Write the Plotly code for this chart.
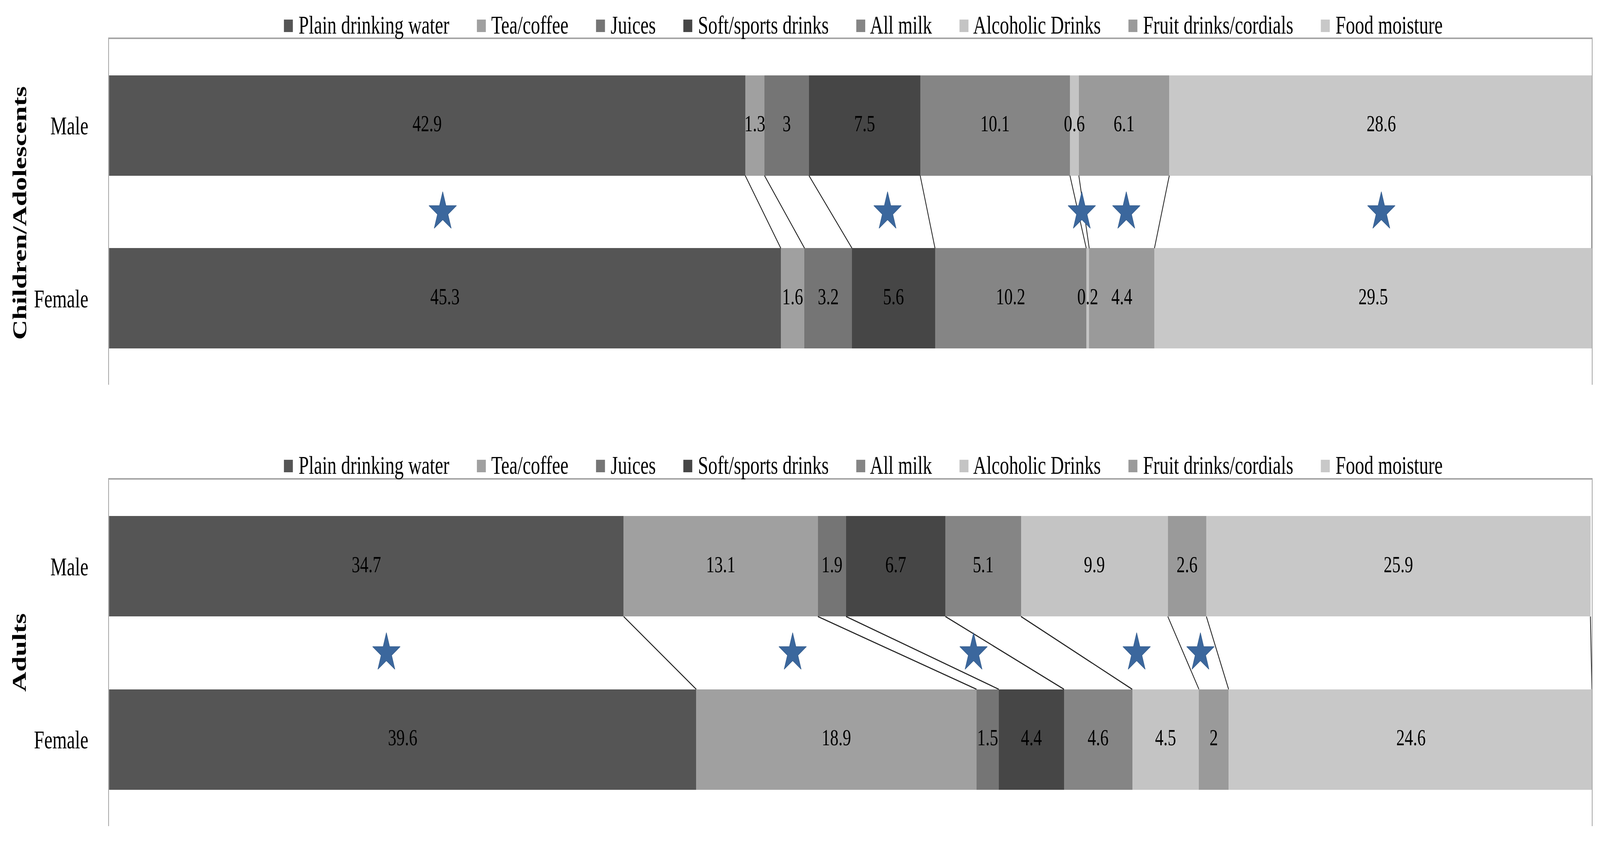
import plotly.graph_objects as go
import numpy as np

categories = ["Plain drinking water", "Tea/coffee", "Juices", "Soft/sports drinks",
              "All milk", "Alcoholic Drinks", "Fruit drinks/cordials", "Food moisture"]
sexes = ["Male", "Female"]
groups = ["Children/Adolescents", "Adults"]

child_male = [42.9, 1.3, 3, 7.5, 10.1, 0.6, 6.1, 28.6]
child_female = [45.3, 1.6, 3.2, 5.6, 10.2, 0.2, 4.4, 29.5]
adult_male = [34.7, 13.1, 1.9, 6.7, 5.1, 9.9, 2.6, 25.9]
adult_female = [39.6, 18.9, 1.5, 4.4, 4.6, 4.5, 2, 24.6]

# significance stars (x position in % units)
child_stars = [22.5, 52.5, 65.6, 68.6, 85.8]
adult_stars = [18.7, 46.1, 58.3, 69.3, 73.6]

colors = ["#555555", "#a0a0a0", "#757575", "#464646",
          "#858585", "#c4c4c4", "#9a9a9a", "#c8c8c8"]

FONT = "Liberation Serif"
BAR_W = 0.58
W, H = 5720, 2171

fig = go.Figure()

panels = [
    (child_male, child_female, child_stars, "x", "y", "legend"),
    (adult_male, adult_female, adult_stars, "x2", "y2", "legend2"),
]

for male, female, stars, xa, ya, lg in panels:
    for i, cat in enumerate(categories):
        vals = [male[i], female[i]]
        fig.add_trace(go.Bar(
            x=vals, y=[0, 1], orientation="h", width=BAR_W,
            marker=dict(color=colors[i], line=dict(width=0)),
            showlegend=False, xaxis=xa, yaxis=ya, hoverinfo="skip",
        ))
    cm = np.cumsum(male)
    cf = np.cumsum(female)
    # value labels, drawn on top of all segments
    lab_x = list(cm - np.array(male) / 2) + list(cf - np.array(female) / 2)
    lab_y = [0] * len(male) + [1] * len(female)
    lab_t = [str(v) for v in male] + [str(v) for v in female]
    fig.add_trace(go.Scatter(
        x=lab_x, y=lab_y, text=lab_t, mode="text", textposition="middle center",
        textfont=dict(family=FONT, size=60, color="black"), cliponaxis=False,
        showlegend=False, xaxis=xa, yaxis=ya, hoverinfo="skip"))
    # connectors between cumulative boundaries
    lx, ly = [], []
    for a, b in zip(cm, cf):
        lx += [min(a, 100), min(b, 100), None]
        ly += [BAR_W / 2, 1 - BAR_W / 2, None]
    fig.add_trace(go.Scatter(
        x=lx, y=ly, mode="lines", line=dict(color="#222222", width=2.8),
        showlegend=False, xaxis=xa, yaxis=ya, hoverinfo="skip"))
    fig.add_trace(go.Scatter(
        x=stars, y=[0.5] * len(stars), mode="markers",
        marker=dict(symbol="star", size=74, color="#3b679d",
                    line=dict(color="#345c8c", width=1.5)),
        showlegend=False, xaxis=xa, yaxis=ya, hoverinfo="skip"))
    # legend entries
    for i, cat in enumerate(categories):
        pad = "\u00a0" * 3 if i < len(categories) - 1 else ""
        fig.add_trace(go.Scatter(
            x=[None], y=[None], mode="markers",
            marker=dict(size=1, color="rgba(0,0,0,0)"),
            name=f"<span style='color:{colors[i]}'>\u25a0</span> {cat}{pad}",
            legend=lg, showlegend=True, xaxis=xa, yaxis=ya))


def ydom(top_px, bot_px):
    return [1 - bot_px / H, 1 - top_px / H]


axis_common_x = dict(range=[0, 100], side="top", showline=True, linecolor="#a6a6a6",
                     linewidth=4, showticklabels=False, showgrid=False, zeroline=False,
                     ticks="", fixedrange=True)
axis_common_y = dict(range=[1.5, -0.5], tickvals=[0, 1], ticktext=sexes, showline=True,
                     linecolor="#a6a6a6", linewidth=3, mirror=True, showgrid=False,
                     zeroline=False, ticks="", ticklabelstandoff=58,
                     tickfont=dict(family=FONT, size=66, color="black"))

legend_common = dict(orientation="h", xanchor="center", x=0.505, yanchor="middle",
                     font=dict(family=FONT, size=66, color="black"),
                     bgcolor="rgba(0,0,0,0)", borderwidth=0, itemwidth=30,
                     traceorder="normal")

fig.update_layout(
    width=W, height=H,
    margin=dict(l=390, r=29, t=0, b=0),
    paper_bgcolor="white", plot_bgcolor="white",
    barmode="stack", bargap=0,
    font=dict(family=FONT, color="black"),
    xaxis=dict(**axis_common_x, anchor="y", domain=[0, 1]),
    yaxis=dict(**axis_common_y, anchor="x", domain=ydom(100, 985)),
    xaxis2=dict(**axis_common_x, anchor="y2", domain=[0, 1]),
    yaxis2=dict(**axis_common_y, anchor="x2", domain=ydom(1228, 2115)),
    legend=dict(**legend_common, y=1 - 60 / H),
    legend2=dict(**legend_common, y=1 - 1187 / H),
    annotations=[
        dict(text=f"<b>{groups[0]}</b>", xref="paper", yref="paper",
             x=(70 - 390) / (W - 390 - 29), y=1 - 545 / H, textangle=-90,
             showarrow=False, xanchor="center", yanchor="middle",
             font=dict(family=FONT, size=71, color="black")),
        dict(text=f"<b>{groups[1]}</b>", xref="paper", yref="paper",
             x=(68 - 390) / (W - 390 - 29), y=1 - 1671 / H, textangle=-90,
             showarrow=False, xanchor="center", yanchor="middle",
             font=dict(family=FONT, size=71, color="black")),
    ],
)

# Fit the fixed 5720x2171 figure onto whatever CSS viewport the browser exposes.
post = """
(function(){
  var gd = document.getElementById('{plot_id}');
  if(!gd) return;
  var vw = window.innerWidth, vh = window.innerHeight;
  var sx = vw / %d, sy = vh / %d;
  document.documentElement.style.margin = '0';
  document.body.style.margin = '0';
  document.documentElement.style.overflow = 'hidden';
  document.body.style.overflow = 'hidden';
  var wrap = gd.parentElement;
  wrap.style.width = vw + 'px';
  wrap.style.height = vh + 'px';
  wrap.style.overflow = 'hidden';
  gd.style.transformOrigin = '0 0';
  gd.style.transform = 'scale(' + sx + ',' + sy + ')';
})();
""" % (W, H)

fig.write_html("out.html", post_script=post, config={"displayModeBar": False})
